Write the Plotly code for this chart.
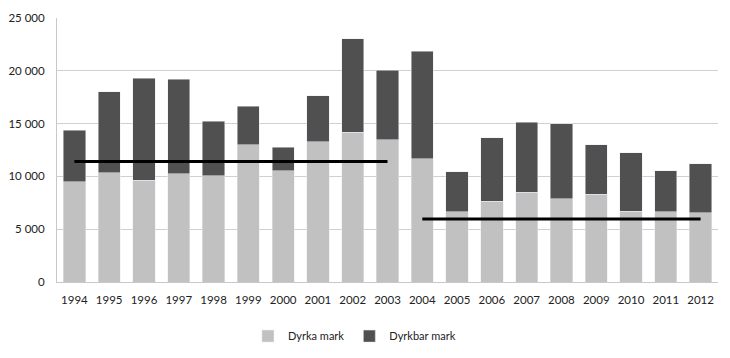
import plotly.graph_objects as go

years = [str(y) for y in range(1994, 2013)]
dyrka = [9480, 10330, 9640, 10270, 10080, 12990, 10520, 13270, 14190, 13460,
         11660, 6640, 7650, 8500, 7900, 8310, 6700, 6640, 6570]
total = [14380, 18040, 19310, 19210, 15230, 16620, 12770, 17660, 23030, 20070,
         21830, 10460, 13650, 15140, 14980, 12990, 12260, 10550, 11180]
dyrkbar = [t - d for t, d in zip(total, dyrka)]

avg1_x = ["1994", "2003"]
avg1_y = [11400, 11400]
avg2_x = ["2004", "2012"]
avg2_y = [5970, 5970]

tick_vals = [0, 5000, 10000, 15000, 20000, 25000]
tick_text = ["0", "5 000", "10 000", "15 000", "20 000", "25 000"]

fig = go.Figure()
fig.add_trace(go.Bar(x=years, y=dyrka, name="Dyrka mark", marker_color="#c1c1c1"))
fig.add_trace(go.Bar(x=years, y=dyrkbar, name="Dyrkbar mark", marker_color="#505050"))
fig.add_trace(go.Scatter(x=avg1_x, y=avg1_y, mode="lines", line=dict(color="black", width=3),
                         showlegend=False, hoverinfo="skip"))
fig.add_trace(go.Scatter(x=avg2_x, y=avg2_y, mode="lines", line=dict(color="black", width=3),
                         showlegend=False, hoverinfo="skip"))

# page body has an 8px margin, so the figure is shifted by 8px; compensate
fig.update_layout(
    width=722, height=350,
    barmode="stack", bargap=0.36,
    margin=dict(l=49, r=12, t=10, b=76, autoexpand=False),
    paper_bgcolor="white", plot_bgcolor="white",
    font=dict(family="Lato", size=11.5, color="#222"),
    legend=dict(orientation="h", x=0.45, xanchor="center", y=-0.205, yanchor="middle",
                font=dict(size=11), itemwidth=30, traceorder="normal"),
    xaxis=dict(type="category", showgrid=False, showline=True, linecolor="#c8c8c8",
               ticks="", ticklabelstandoff=7, automargin=False),
    yaxis=dict(range=[0, 25000], tickvals=tick_vals, ticktext=tick_text,
               showgrid=True, gridcolor="#d0d0d0", showline=True, linecolor="#c8c8c8",
               zeroline=False, ticks="", ticklabelstandoff=9, automargin=False),
)

fig.write_html("out.html")
